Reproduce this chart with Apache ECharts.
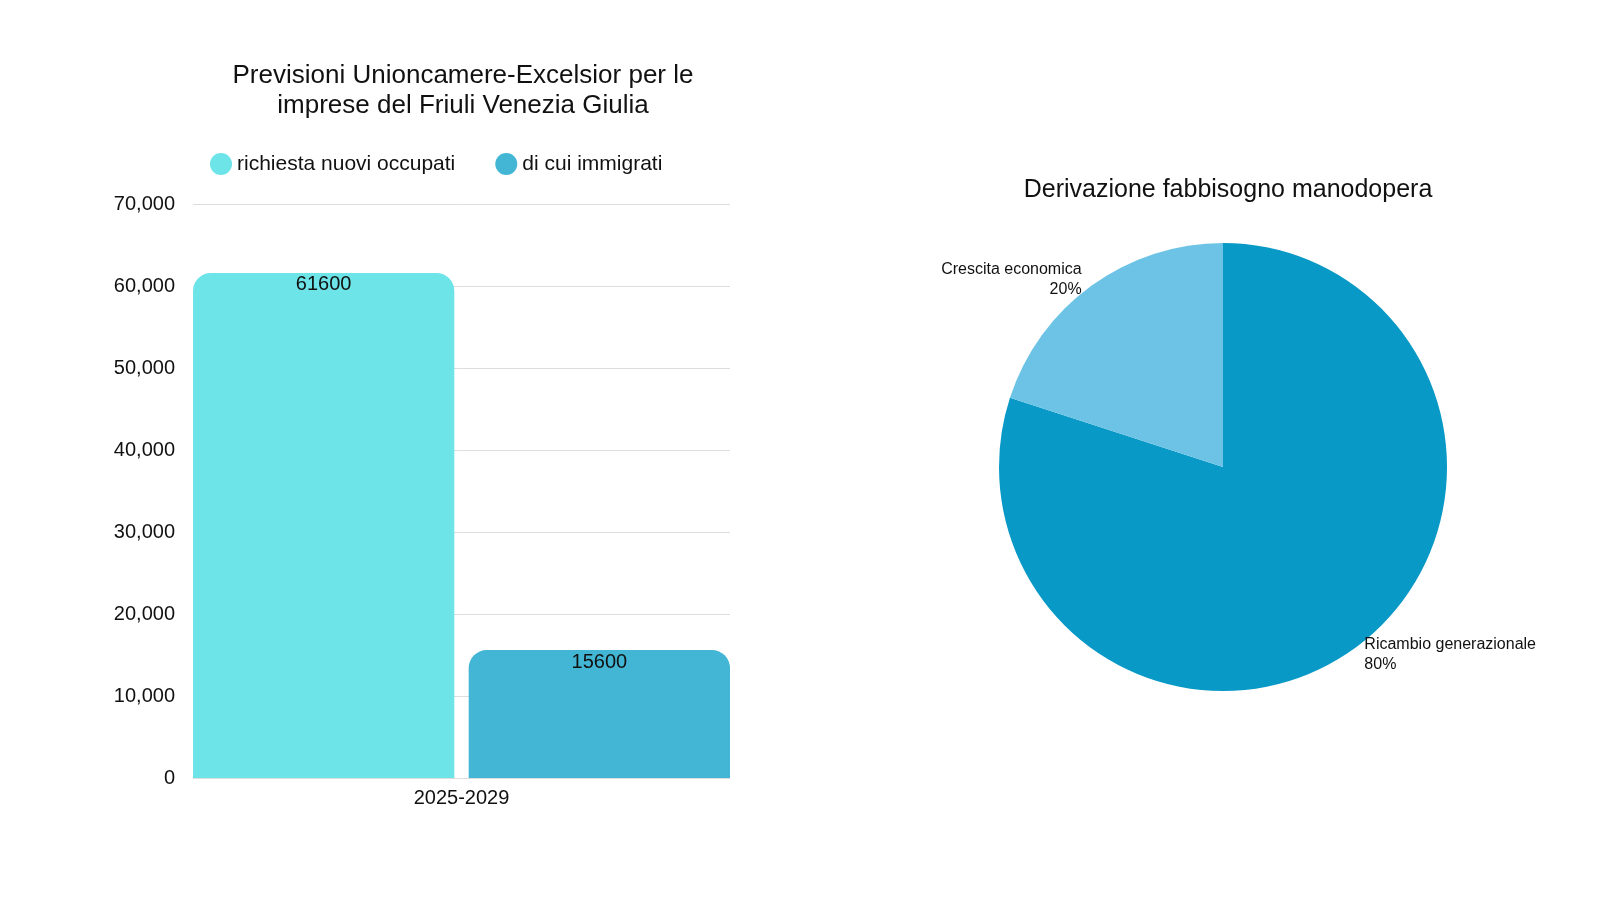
<!DOCTYPE html>
<html>
<head>
<meta charset="utf-8">
<script src="https://cdn.jsdelivr.net/npm/echarts@6/dist/echarts.min.js"></script>
<style>html,body{margin:0;background:#fff}#charts{width:1600px;height:900px}</style>
</head>
<body>
<div id="charts"></div>
<script>
const categories = ['2025-2029'];
const seriesNames = ['richiesta nuovi occupati', 'di cui immigrati'];
const barValues = [61600, 15600];
const barColors = ['#6ce4e8', '#42b6d4'];
const pieNames = ['Ricambio generazionale', 'Crescita economica'];
const pieValues = [80, 20];
const pieColors = ['#0899c7', '#6cc3e6'];

const myChart = echarts.init(document.getElementById('charts'));
const font = 'Liberation Sans, Arial, sans-serif';

const option = {
  textStyle: { fontFamily: font },
  title: [
    {
      text: 'Previsioni Unioncamere-Excelsior per le\nimprese del Friuli Venezia Giulia',
      left: 458, top: 56, textAlign: 'center',
      textStyle: { fontSize: 26, fontWeight: 'normal', color: '#111', lineHeight: 30, fontFamily: font }
    },
    {
      text: 'Derivazione fabbisogno manodopera',
      left: 1223, top: 173, textAlign: 'center',
      textStyle: { fontSize: 25, fontWeight: 'normal', color: '#111', fontFamily: font }
    }
  ],
  legend: {
    data: seriesNames, top: 148, left: 205, icon: 'circle', itemWidth: 22, itemHeight: 22, itemGap: 40,
    textStyle: { fontSize: 21, color: '#111', fontFamily: font }
  },
  grid: { left: 193, right: 870, top: 204, bottom: 122 },
  xAxis: {
    type: 'category', data: categories,
    axisLine: { show: false }, axisTick: { show: false },
    axisLabel: { fontSize: 20, color: '#111', margin: 10 }
  },
  yAxis: {
    type: 'value', min: 0, max: 70000, interval: 10000,
    axisLabel: { fontSize: 20, color: '#111', margin: 18 },
    splitLine: { lineStyle: { color: '#ddd' } }
  },
  series: seriesNames.map((name, i) => ({
    name, type: 'bar', barGap: '5.5%', barCategoryGap: '0%',
    data: [barValues[i]],
    itemStyle: { color: barColors[i], borderRadius: [18, 18, 0, 0] },
    label: { show: true, position: 'insideTop', fontSize: 20, color: '#111', distance: 2 }
  })).concat([{
    type: 'pie', radius: 224, center: [1223, 467], startAngle: 90,
    data: pieNames.map((n, i) => ({ name: n, value: pieValues[i], itemStyle: { color: pieColors[i] } })),
    label: { show: true, position: 'outside', formatter: '{b}\n{d}%', fontSize: 16, color: '#111', lineHeight: 20, align: 'center' },
    labelLine: { show: false, length: 8, length2: 0 },
    emphasis: { disabled: true }
  }])
};
myChart.setOption(option);
</script>
</body>
</html>
